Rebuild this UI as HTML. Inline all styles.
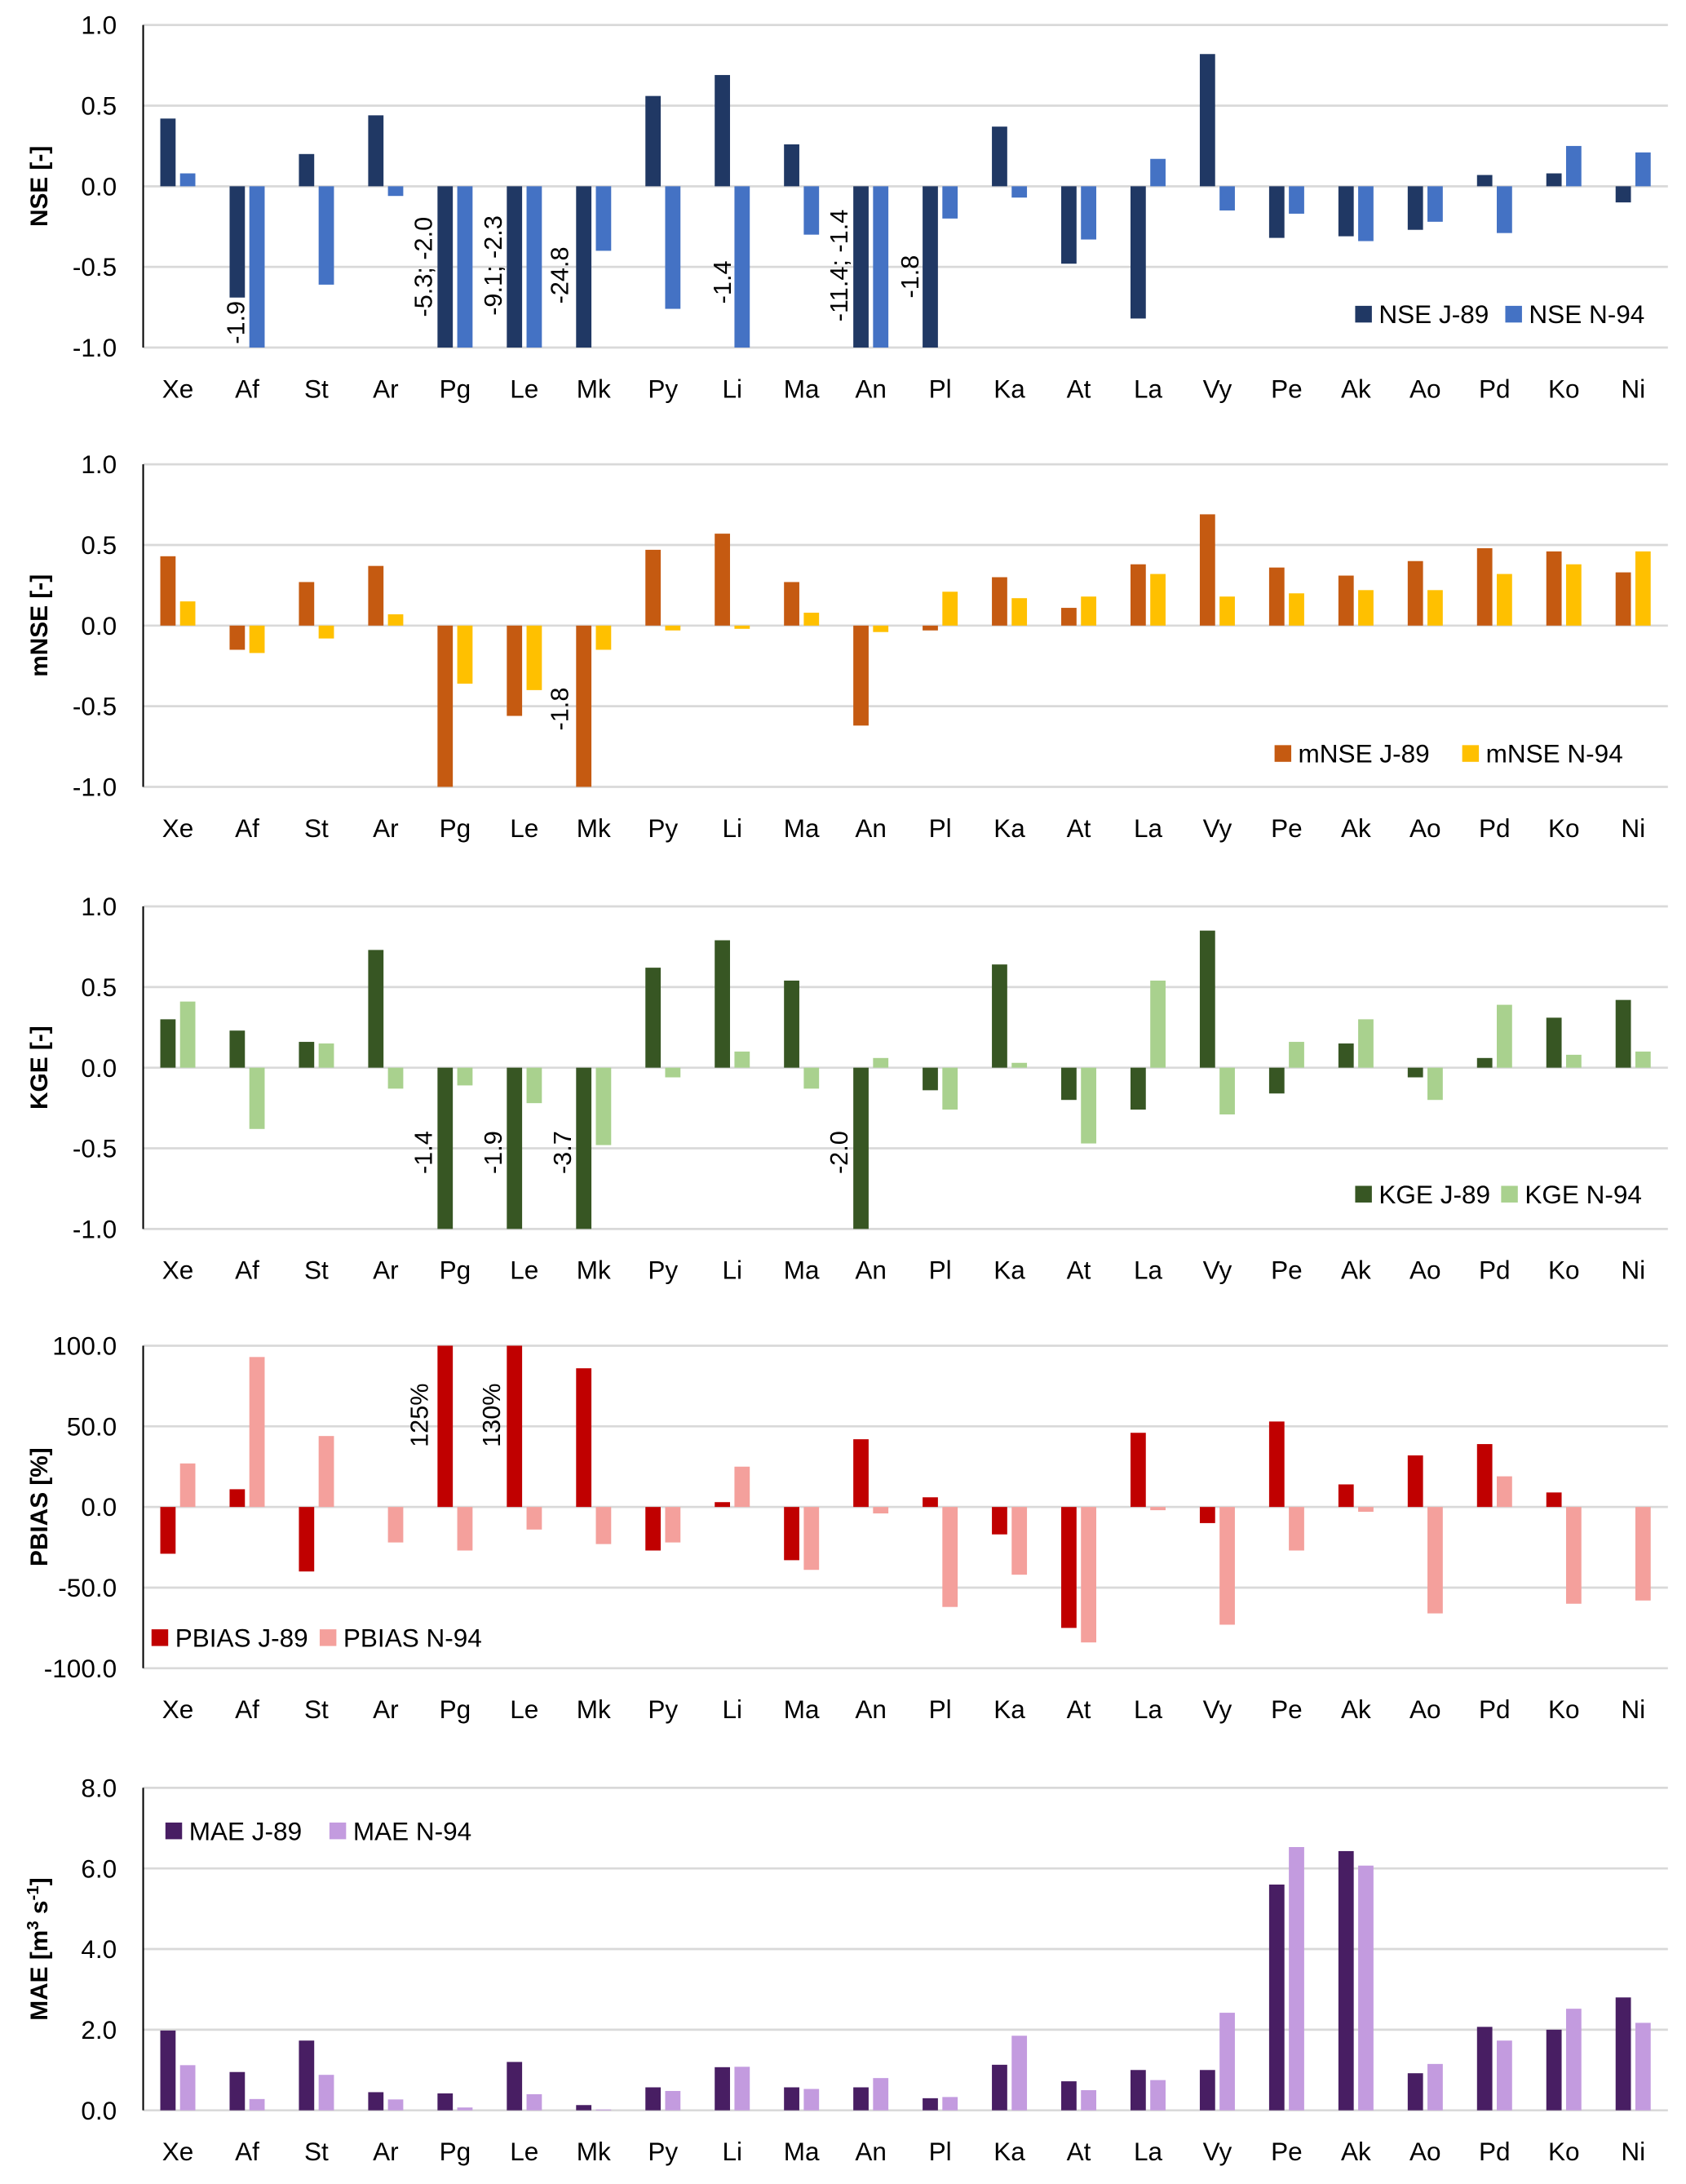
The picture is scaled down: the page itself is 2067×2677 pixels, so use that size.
<!DOCTYPE html>
<html><head><meta charset="utf-8">
<style>
html,body{margin:0;padding:0;background:#fff;}
svg{display:block;}
text{font-family:"Liberation Sans",sans-serif;fill:#000;}
</style></head>
<body>
<svg id="fig" xmlns="http://www.w3.org/2000/svg" width="2067" height="2677" viewBox="0 0 1213 1571"></svg>
<script>
const categories=["Xe","Af","St","Ar","Pg","Le","Mk","Py","Li","Ma","An","Pl","Ka","At","La","Vy","Pe","Ak","Ao","Pd","Ko","Ni"];
const nseJ=[0.42,-0.69,0.20,0.44,-5.3,-9.1,-24.8,0.56,0.69,0.26,-11.4,-1.8,0.37,-0.48,-0.82,0.82,-0.32,-0.31,-0.27,0.07,0.08,-0.10];
const nseN=[0.08,-1.9,-0.61,-0.06,-2.0,-2.3,-0.40,-0.76,-1.4,-0.30,-1.4,-0.20,-0.07,-0.33,0.17,-0.15,-0.17,-0.34,-0.22,-0.29,0.25,0.21];
const mnseJ=[0.43,-0.15,0.27,0.37,-1.0,-0.56,-1.8,0.47,0.57,0.27,-0.62,-0.03,0.30,0.11,0.38,0.69,0.36,0.31,0.40,0.48,0.46,0.33];
const mnseN=[0.15,-0.17,-0.08,0.07,-0.36,-0.40,-0.15,-0.03,-0.02,0.08,-0.04,0.21,0.17,0.18,0.32,0.18,0.20,0.22,0.22,0.32,0.38,0.46];
const kgeJ=[0.30,0.23,0.16,0.73,-1.4,-1.9,-3.7,0.62,0.79,0.54,-2.0,-0.14,0.64,-0.20,-0.26,0.85,-0.16,0.15,-0.06,0.06,0.31,0.42];
const kgeN=[0.41,-0.38,0.15,-0.13,-0.11,-0.22,-0.48,-0.06,0.10,-0.13,0.06,-0.26,0.03,-0.47,0.54,-0.29,0.16,0.30,-0.20,0.39,0.08,0.10];
const pbiasJ=[-29,11,-40,0,125,130,86,-27,3,-33,42,6,-17,-75,46,-10,53,14,32,39,9,0];
const pbiasN=[27,93,44,-22,-27,-14,-23,-22,25,-39,-4,-62,-42,-84,-2,-73,-27,-3,-66,19,-60,-58];
const maeJ=[1.98,0.95,1.73,0.45,0.42,1.20,0.13,0.57,1.07,0.57,0.57,0.30,1.13,0.72,1.00,1.00,5.60,6.43,0.92,2.07,2.00,2.80];
const maeN=[1.12,0.28,0.88,0.27,0.07,0.40,0.02,0.48,1.08,0.53,0.80,0.33,1.85,0.50,0.75,2.42,6.53,6.07,1.15,1.73,2.52,2.17];
const ticks11=["-1.0","-0.5","0.0","0.5","1.0"];
const ticksP=["-100.0","-50.0","0.0","50.0","100.0"];
const ticksM=["0.0","2.0","4.0","6.0","8.0"];
const nseNotes=["-1.9","-5.3; -2.0","-9.1; -2.3","-24.8","-1.4","-11.4; -1.4","-1.8"];
const mnseNotes=["-1.8"];
const kgeNotes=["-1.4","-1.9","-3.7","-2.0"];
const pbiasNotes=["125%","130%"];
// annotation placement (layout, not data)
const nseNotePos=[[170,232],[305,192],[355,191],[403,198],[520,203],[604,191],[655,199]];
const mnseNotePos=[[403,510]];
const kgeNotePos=[[305,829],[355,829],[405,829],[604,829]];
const pbiasNotePos=[[302,1018],[354,1018]];

const NS="http://www.w3.org/2000/svg";
const svg=document.getElementById('fig');
function mk(tag,attrs,parent){const e=document.createElementNS(NS,tag);for(const k in attrs)e.setAttribute(k,attrs[k]);(parent||svg).appendChild(e);return e;}
const X0=103,CW=49.86;
function xc(i){return X0+CW*(i+0.5);}

const panels=[
 {id:"nse",title:"NSE [-]",top:18,bot:250,min:-1,max:1,ticks:ticks11,a:nseJ,b:nseN,ca:"#203864",cb:"#4472C4",la:"NSE J-89",lb:"NSE N-94",leg:[975,1083],legY:226,notes:nseNotes,pos:nseNotePos},
 {id:"mnse",title:"mNSE [-]",top:334,bot:566,min:-1,max:1,ticks:ticks11,a:mnseJ,b:mnseN,ca:"#C55A11",cb:"#FFC000",la:"mNSE J-89",lb:"mNSE N-94",leg:[917,1052],legY:542,notes:mnseNotes,pos:mnseNotePos},
 {id:"kge",title:"KGE [-]",top:652,bot:884,min:-1,max:1,ticks:ticks11,a:kgeJ,b:kgeN,ca:"#375623",cb:"#A9D18E",la:"KGE J-89",lb:"KGE N-94",leg:[975,1080],legY:859,notes:kgeNotes,pos:kgeNotePos},
 {id:"pbias",title:"PBIAS [%]",top:968,bot:1200,min:-100,max:100,ticks:ticksP,a:pbiasJ,b:pbiasN,ca:"#C00000",cb:"#F4A09C",la:"PBIAS J-89",lb:"PBIAS N-94",leg:[109,230],legY:1178,notes:pbiasNotes,pos:pbiasNotePos},
 {id:"mae",title:null,top:1286,bot:1518,min:0,max:8,ticks:ticksM,a:maeJ,b:maeN,ca:"#481E63",cb:"#C39BDF",la:"MAE J-89",lb:"MAE N-94",leg:[119,237],legY:1317,notes:[],pos:[]}
];

panels.forEach(p=>{
  const g=mk('g',{});
  
  
  const y=v=>p.bot-(Math.max(p.min,Math.min(p.max,v))-p.min)/(p.max-p.min)*(p.bot-p.top);
  p.ticks.forEach(t=>{
    const v=parseFloat(t),yy=y(v);
    const gl=mk('line',{x1:X0,x2:1200,y1:yy,y2:yy,stroke:"#d9d9d9","stroke-width":1.6},g);
    
    
    const tl=mk('text',{x:84,y:yy+6.5,"text-anchor":"end","font-size":18.5},g);
    tl.textContent=t;
    
    
  });
  const ax=mk('line',{x1:X0,x2:X0,y1:p.top,y2:p.bot,stroke:"#000","stroke-width":1.2},g);
  
  
  const y0=y(Math.max(0,p.min));
  categories.forEach((c,i)=>{
    const cx=xc(i);
    [[p.a,p.ca,-0.253*CW],[p.b,p.cb,0.032*CW]].forEach((s,k)=>{
      const yv=y(s[0][i]);
      const r=mk('rect',{x:cx+s[2],width:0.221*CW,y:Math.min(yv,y0),height:Math.abs(yv-y0),fill:s[1]},g);
      
      
    });
    const cl=mk('text',{x:cx,y:p.bot+36,"text-anchor":"middle","font-size":18.5},g);
    cl.textContent=c;
    
    
  });
  p.notes.forEach((n,j)=>{
    const ps=p.pos[j];
    const t=mk('text',{x:0,y:0,"font-size":18,"text-anchor":"middle","dominant-baseline":"central",transform:`translate(${ps[0]},${ps[1]}) rotate(-90)`},g);
    t.textContent=n;
    
    
  });
  const tt=mk('text',{x:0,y:0,"font-size":17.5,"font-weight":"bold","text-anchor":"middle",transform:`translate(34,${(p.top+p.bot)/2}) rotate(-90)`},g);
  if(p.title){tt.textContent=p.title;}
  else{
    tt.appendChild(document.createTextNode("MAE [m"));
    const s1=mk('tspan',{"baseline-shift":"super","font-size":12},tt);s1.textContent="3";
    tt.appendChild(document.createTextNode(" s"));
    const s2=mk('tspan',{"baseline-shift":"super","font-size":12},tt);s2.textContent="-1";
    tt.appendChild(document.createTextNode("]"));
  }
  
  
  [[p.leg[0],p.ca,p.la],[p.leg[1],p.cb,p.lb]].forEach((L,k)=>{
    const lg=mk('g',{},g);
    
    
    mk('rect',{x:L[0],y:p.legY-6,width:12,height:12,fill:L[1]},lg);
    const lt=mk('text',{x:L[0]+17,y:p.legY+6.5,"font-size":18.5},lg);
    lt.textContent=L[2];
  });
});
</script>
</body></html>
